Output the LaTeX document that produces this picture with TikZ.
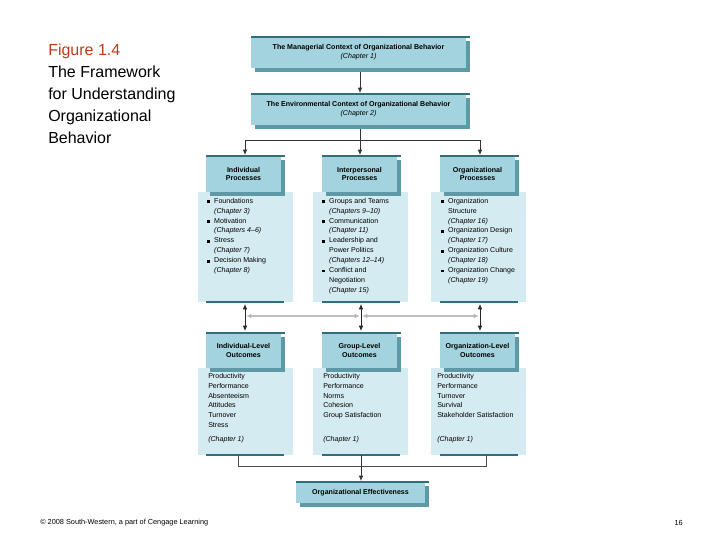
\documentclass[tikz,border=0pt]{standalone}
\usepackage{fontspec}
\setmainfont{Liberation Sans}
\usetikzlibrary{arrows.meta}
\definecolor{hdr}{HTML}{A3D3DE}
\definecolor{pan}{HTML}{D5EBF2}
\definecolor{shd}{HTML}{5E9AA6}
\definecolor{dk}{HTML}{2F6E7A}
\definecolor{red1}{HTML}{C0391B}
\tikzset{
 hbox/.style={fill=hdr,draw=none},
 txt/.style={font=\fontsize{5.3}{6.6}\selectfont,align=center},
 btxt/.style={font=\fontsize{5.3}{6.6}\selectfont\bfseries,align=center},
 ltxt/.style={font=\fontsize{5.3}{7.4}\selectfont,align=left,anchor=north west,inner sep=0},
 conn/.style={draw=black!80,line width=0.6pt,-{Latex[length=4pt,width=3.5pt]}},
 gconn/.style={draw=black!25,line width=0.9pt},
 arr/.style={-{Latex[length=4pt,width=3.5pt]}}
}
\newcommand{\hdrbox}[5]{% name x1 y1 x2 y2
 \fill[shd] (#2+4,#3+4) rectangle (#4+4,#5+4);
 \fill[hdr] (#2,#3) rectangle (#4,#5);
 \draw[dk,line width=1.2pt] (#2,#3) -- (#4+4,#3);
 \coordinate (#1) at ({(#2+#4)/2},{(#3+#5)/2});
}
\begin{document}
\begin{tikzpicture}[x=0.75pt,y=-0.75pt]
\useasboundingbox (0,0) rectangle (720,540);
% title
\node[anchor=north west,align=left,inner sep=0,font=\fontsize{12}{16.5}\selectfont] (title) at (48,44)
 {\textcolor{red1}{Figure 1.4}\\The Framework\\for Understanding\\Organizational\\Behavior};
% top boxes
\hdrbox{mc}{251}{37}{466}{68}
\node[txt] at (mc) {\textbf{The Managerial Context of Organizational Behavior}\\\textit{(Chapter 1)}};
\hdrbox{ec}{251}{94}{466}{125}
\node[txt] at (ec) {\textbf{The Environmental Context of Organizational Behavior}\\\textit{(Chapter 2)}};
\coordinate (mcb) at (360,72);
\coordinate (ect) at (360,93);
\draw[conn] (mcb) -- (ect);
\coordinate (ecb) at (360,129);
\coordinate (br) at (360,140);
\coordinate (bl) at (245,140);
\coordinate (brr) at (480,140);
\draw[black!80,line width=0.6pt] (ecb) -- (br) (bl) -- (brr);
\coordinate (p1t) at (245,155);\coordinate (p2t) at (360,155);\coordinate (p3t) at (480,155);
\draw[conn] (bl) -- (p1t);\draw[conn] (br) -- (p2t);\draw[conn] (brr) -- (p3t);
% process panels
\foreach \px/\hx in {198/206,313/322,431/440}{
 \fill[pan] (\px,192) rectangle (\px+95,302);
 \draw[dk,line width=1.2pt] (\hx,302) -- (\hx+78,302);
 \fill[pan] (\px,368) rectangle (\px+95,455);
 \draw[dk,line width=1.2pt] (\hx,455) -- (\hx+78,455);
}
\hdrbox{ip}{206}{156}{281}{192}
\node[btxt] at (ip) {Individual\\Processes};
\hdrbox{pp}{322}{156}{397}{192}
\node[btxt] at (pp) {Interpersonal\\Processes};
\hdrbox{op}{440}{156}{515}{192}
\node[btxt] at (op) {Organizational\\Processes};
\def\sq{\rule{2.2pt}{2.2pt}\hspace{3pt}}
\node[ltxt] (ipl) at (207,198) {\sq Foundations\\\hspace{5.2pt}\textit{(Chapter 3)}\\\sq Motivation\\\hspace{5.2pt}\textit{(Chapters 4--6)}\\\sq Stress\\\hspace{5.2pt}\textit{(Chapter 7)}\\\sq Decision Making\\\hspace{5.2pt}\textit{(Chapter 8)}};
\node[ltxt] (ppl) at (322,198) {\sq Groups and Teams\\\hspace{5.2pt}\textit{(Chapters 9--10)}\\\sq Communication\\\hspace{5.2pt}\textit{(Chapter 11)}\\\sq Leadership and\\\hspace{5.2pt}Power Politics\\\hspace{5.2pt}\textit{(Chapters 12--14)}\\\sq Conflict and\\\hspace{5.2pt}Negotiation\\\hspace{5.2pt}\textit{(Chapter 15)}};
\node[ltxt] (opl) at (441,198) {\sq Organization\\\hspace{5.2pt}Structure\\\hspace{5.2pt}\textit{(Chapter 16)}\\\sq Organization Design\\\hspace{5.2pt}\textit{(Chapter 17)}\\\sq Organization Culture\\\hspace{5.2pt}\textit{(Chapter 18)}\\\sq Organization Change\\\hspace{5.2pt}\textit{(Chapter 19)}};
% outcome headers
\hdrbox{io}{206}{333}{281}{368}
\node[btxt] at (io) {Individual-Level\\Outcomes};
\hdrbox{go}{322}{333}{397}{368}
\node[btxt] at (go) {Group-Level\\Outcomes};
\hdrbox{oo}{440}{333}{515}{368}
\node[btxt] at (oo) {Organization-Level\\Outcomes};
\node[ltxt] (iol) at (208,373) {Productivity\\Performance\\Absenteeism\\Attitudes\\Turnover\\Stress\\[3pt]\textit{(Chapter 1)}};
\node[ltxt] (gol) at (323,373) {Productivity\\Performance\\Norms\\Cohesion\\Group Satisfaction\\\\[3pt]\textit{(Chapter 1)}};
\node[ltxt] (ool) at (437,373) {Productivity\\Performance\\Turnover\\Survival\\Stakeholder Satisfaction\\\\[3pt]\textit{(Chapter 1)}};
% connections between rows
\foreach \xx in {245,361,480}{
 \draw[black!85,line width=0.6pt,{Latex[length=4pt,width=3.5pt]}-{Latex[length=4pt,width=3.5pt]}] (\xx,304) -- (\xx,331);
}
\coordinate (hl) at (246,316);\coordinate (hm1) at (360,316);\coordinate (hm2) at (362,316);\coordinate (hr) at (479,316);
\draw[gconn,{Latex[length=4pt,width=3.5pt,fill=black]}-{Latex[length=4pt,width=3.5pt,fill=black]}] (hl) -- (hm1);
\draw[gconn,{Latex[length=4pt,width=3.5pt,fill=black]}-{Latex[length=4pt,width=3.5pt,fill=black]}] (hm2) -- (hr);
% bottom bracket
\coordinate (b1) at (238,455);\coordinate (b2) at (238,466);\coordinate (b3) at (486,466);\coordinate (b4) at (486,455);
\draw[black!70,line width=0.5pt] (b1) -- (b2) -- (b3) -- (b4);
\hdrbox{oe}{296}{482}{425}{503}
\node[btxt] at (oe) {Organizational Effectiveness};
\draw[conn] (361,455) -- (361,481);
% footer
\node[anchor=west,inner sep=0,font=\fontsize{5.5}{6}\selectfont] (ft) at (40,523) {© 2008 South-Western, a part of Cengage Learning};
\node[anchor=east,inner sep=0,font=\fontsize{5.5}{6}\selectfont] (pg) at (683,523) {16};
\end{tikzpicture}
\end{document}
